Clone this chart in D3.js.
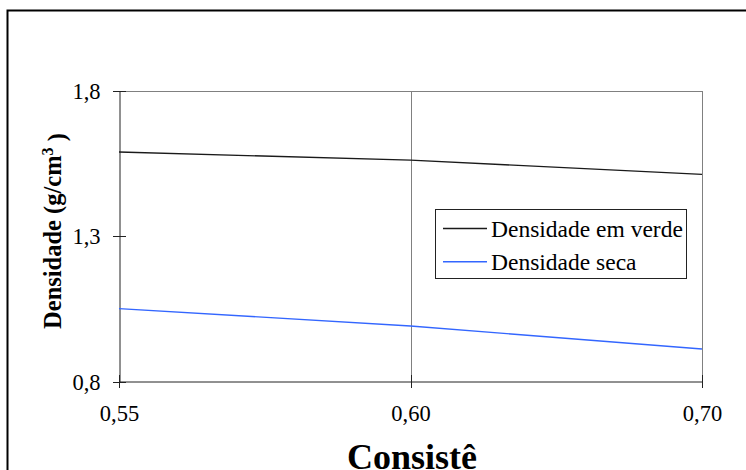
<!DOCTYPE html>
<html>
<head>
<meta charset="utf-8">
<script src="https://cdn.jsdelivr.net/npm/d3@7"></script>
<style>
  html, body { margin: 0; padding: 0; background: #fff; }
  svg { display: block; }
  text { font-family: "Liberation Serif", "Times New Roman", serif; fill: #000; }
</style>
</head>
<body>
<svg id="chart" width="746" height="470"></svg>
<script>
const categories = ["0,55", "0,60", "0,70"];
const densidadeVerde = [1.59, 1.562, 1.513];
const densidadeSeca = [1.051, 0.991, 0.912];
const yTicks = [0.8, 1.3, 1.8];
const yTickLabels = ["0,8", "1,3", "1,8"];
const seriesNames = ["Densidade em verde", "Densidade seca"];
const seriesColors = ["#1a1a1a", "#3366ff"];

const svg = d3.select("#chart");

// outer chart border (extends beyond right/bottom edge)
svg.append("rect")
  .attr("x", 7.5).attr("y", 10.5)
  .attr("width", 800).attr("height", 600)
  .attr("fill", "none").attr("stroke", "#000").attr("stroke-width", 2);

const x = d3.scalePoint().domain(categories).range([119, 702]);
const y = d3.scaleLinear().domain([0.8, 1.8]).range([381.5, 91]);

// gridlines / plot frame (gray)
const grid = svg.append("g").attr("stroke", "#808080").attr("stroke-width", 1);
grid.append("line")
  .attr("x1", x.range()[0]).attr("x2", x.range()[1])
  .attr("y1", Math.round(y(1.8)) + 0.5).attr("y2", Math.round(y(1.8)) + 0.5);
categories.slice(1).forEach(c => {
  grid.append("line")
    .attr("x1", Math.round(x(c)) + 0.5).attr("x2", Math.round(x(c)) + 0.5)
    .attr("y1", y(1.8)).attr("y2", y(0.8));
});

// axes
const yAxis = d3.axisLeft(y).tickValues(yTicks)
  .tickFormat((d, i) => yTickLabels[i]).tickSizeInner(0).tickSizeOuter(0).tickPadding(19);
const gy = svg.append("g").attr("transform", "translate(119.5,0)").call(yAxis);
gy.select(".domain").attr("stroke", "#222");
gy.selectAll("text").style("font-size", "22.5px")
  .style("font-family", "'Liberation Serif', serif").attr("dy", "0.34em");

const xAxis = d3.axisBottom(x).tickSizeInner(0).tickSizeOuter(0).tickPadding(24);
const gx = svg.append("g").attr("transform", "translate(0,381.5)").call(xAxis);
gx.select(".domain").attr("stroke", "#222");
gx.selectAll("text").style("font-size", "22.5px")
  .style("font-family", "'Liberation Serif', serif").attr("dy", "0.71em");

// cross tick marks
const ticks = svg.append("g").attr("stroke", "#222").attr("stroke-width", 1);
yTicks.forEach(t => {
  ticks.append("line").attr("x1", 113).attr("x2", 126)
    .attr("y1", Math.round(y(t)) + 0.5).attr("y2", Math.round(y(t)) + 0.5);
});
categories.forEach(c => {
  ticks.append("line").attr("y1", 375).attr("y2", 388)
    .attr("x1", Math.round(x(c)) + 0.5).attr("x2", Math.round(x(c)) + 0.5);
});

// lines
const line = d3.line().x((d, i) => x(categories[i])).y(d => y(d));
[densidadeVerde, densidadeSeca].forEach((s, k) => {
  svg.append("path").datum(s)
    .attr("fill", "none").attr("stroke", seriesColors[k])
    .attr("stroke-width", 1.4).attr("d", line);
});

// legend
const lg = svg.append("g");
lg.append("rect").attr("x", 435.5).attr("y", 209.5).attr("width", 251).attr("height", 69)
  .attr("fill", "#fff").attr("stroke", "#222").attr("stroke-width", 1);
seriesNames.forEach((n, k) => {
  const yy = 228.5 + k * 33.3;
  lg.append("line").attr("x1", 443).attr("x2", 487).attr("y1", yy).attr("y2", yy)
    .attr("stroke", seriesColors[k]).attr("stroke-width", 1.4);
  lg.append("text").attr("x", 491).attr("y", yy + 8)
    .style("font-size", "23.5px").text(n);
});

// axis titles
svg.append("text")
  .attr("x", 412).attr("y", 469)
  .attr("text-anchor", "middle")
  .style("font-size", "36px").style("font-weight", "bold")
  .text("Consistê");

const yt = svg.append("text")
  .attr("transform", "translate(61,231) rotate(-90)")
  .attr("text-anchor", "middle")
  .style("font-size", "24.5px").style("font-weight", "bold");
yt.append("tspan").text("Densidade (g/cm");
yt.append("tspan").attr("dy", "-0.5em").style("font-size", "16px").text("3");
yt.append("tspan").attr("dy", "0.5em").text(" )");
</script>
</body>
</html>
